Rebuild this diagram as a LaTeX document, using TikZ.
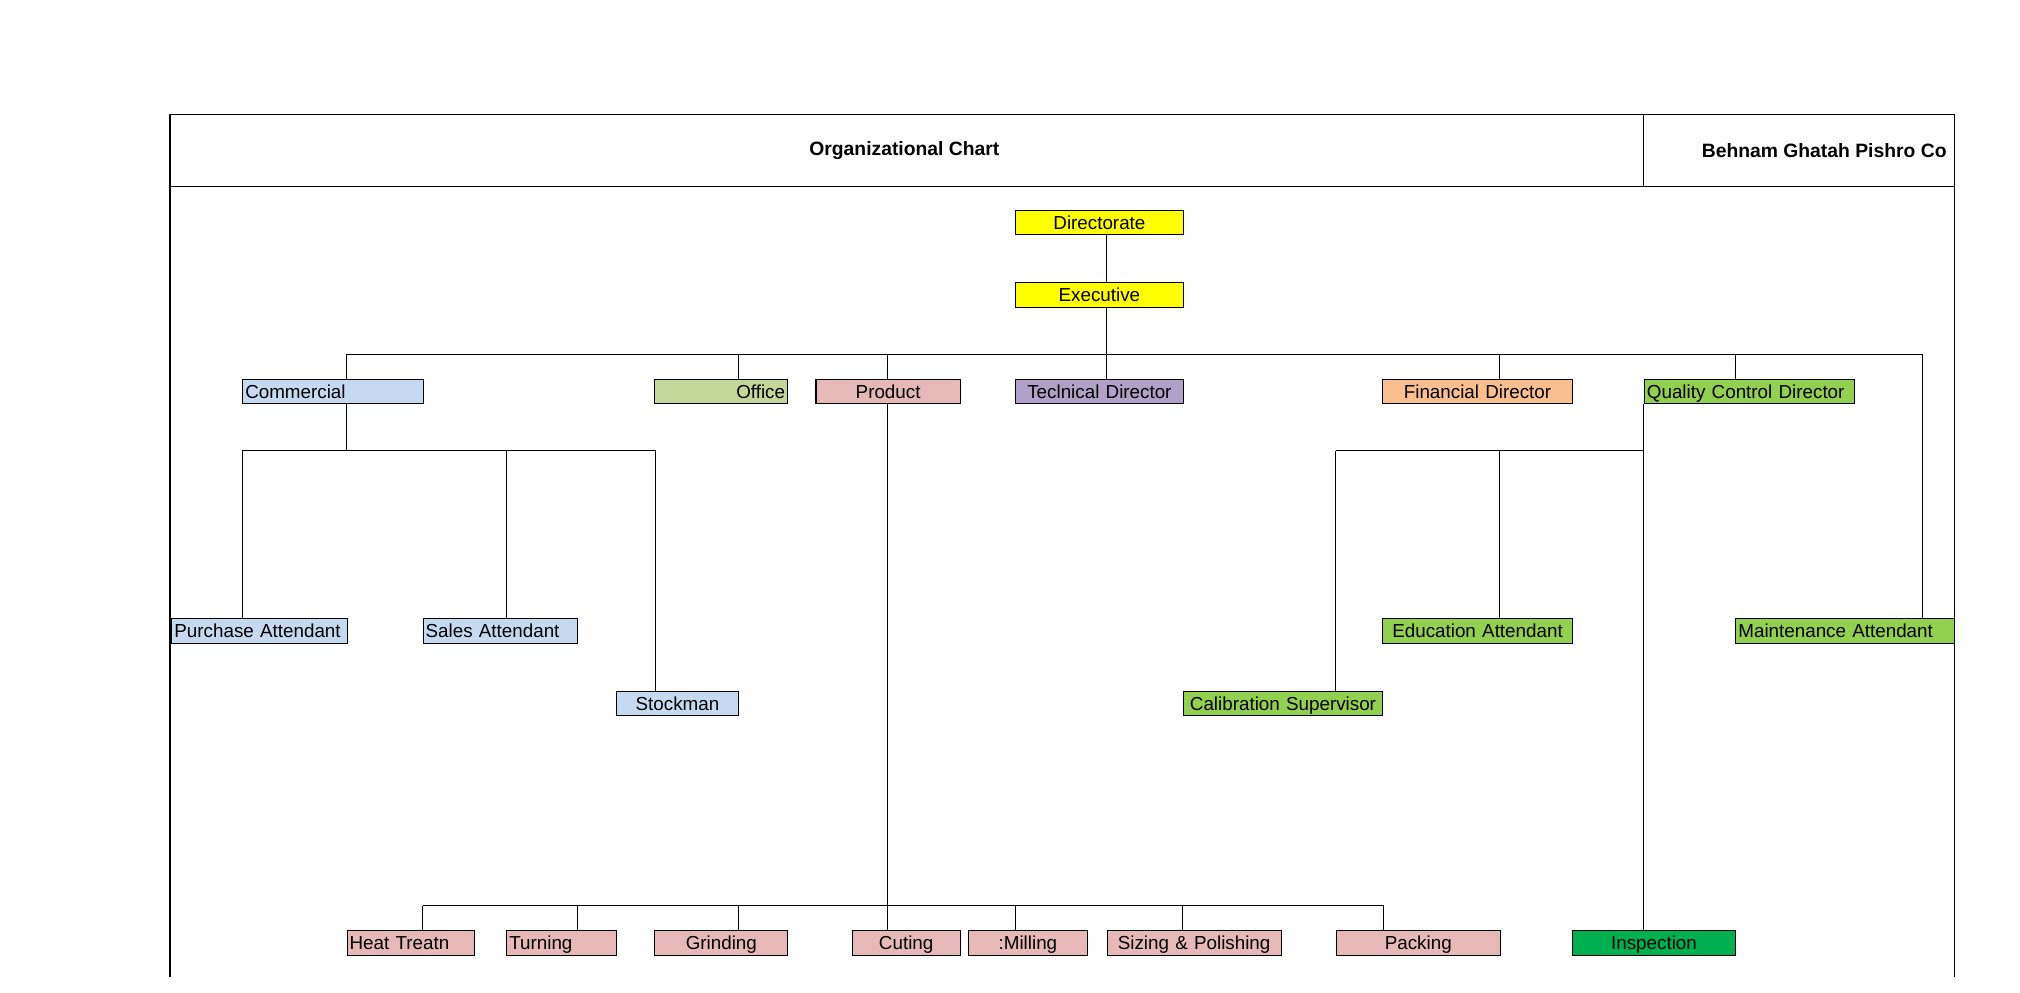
\documentclass[tikz,border=0pt]{standalone}
\usepackage{fontspec}
\setmainfont{Liberation Sans}
\definecolor{cYellow}{HTML}{FFFF00}
\definecolor{cBlue}{HTML}{C5D9F1}
\definecolor{cOffice}{HTML}{C4D79B}
\definecolor{cPink}{HTML}{E6B8B7}
\definecolor{cPurple}{HTML}{B1A0C7}
\definecolor{cOrange}{HTML}{FABF8F}
\definecolor{cGreen}{HTML}{92D050}
\definecolor{cDark}{HTML}{00B050}
\begin{document}
\begin{tikzpicture}[x=1pt,y=-1pt,
  box/.style={draw=black, line width=0.8pt, minimum height=19pt, inner xsep=2pt, inner ysep=0pt,
    anchor=north west, text height=11pt, text depth=0.5pt, font=\fontsize{14.6}{16}\selectfont},
  lbox/.style={box, align=left},
  cbox/.style={box, align=center},
  rbox/.style={box, align=right},
  conn/.style={draw=black, line width=0.8pt},
  frame/.style={draw=black, line width=0.9pt},
  head/.style={font=\fontsize{15}{17}\selectfont\bfseries}]
\useasboundingbox (0,0) rectangle (1568,770.8);
% frame
\draw[frame] (132,758) -- (132,89) -- (1517,89) -- (1517,758);
\draw[frame] (132,145) -- (1517,145);
\draw[frame] (1276,89) -- (1276,145);
\node[head] (title) at (702,117) {Organizational Chart};
\node[head] (company) at (1416,117) {Behnam Ghatah Pishro Co};
% boxes
\node[cbox, fill=cYellow, text width=126pt] (dir) at (788,163) {Directorate};
\node[cbox, fill=cYellow, text width=126pt] (exe) at (788,219) {Executive};
\node[lbox, fill=cBlue, text width=136pt] (com) at (188,294) {Commercial};
\node[rbox, fill=cOffice, text width=99pt] (off) at (508,294) {Office};
\node[cbox, fill=cPink, text width=108pt] (prod) at (633,294) {Product};
\node[cbox, fill=cPurple, text width=126pt] (tech) at (788,294) {Teclnical Director};
\node[cbox, fill=cOrange, text width=143pt] (fin) at (1073,294) {Financial Director};
\node[lbox, fill=cGreen, text width=159pt] (qc) at (1276,294) {Quality Control Director};
\node[lbox, fill=cBlue, text width=132pt] (pur) at (133,480) {Purchase Attendant};
\node[lbox, fill=cBlue, text width=116pt] (sal) at (328,480) {Sales Attendant};
\node[cbox, fill=cBlue, text width=91pt] (sto) at (478,536) {Stockman};
\node[cbox, fill=cGreen, text width=151pt] (cal) at (918,536) {Calibration Supervisor};
\node[cbox, fill=cGreen, text width=143pt] (edu) at (1073,480) {Education Attendant};
\node[lbox, fill=cGreen, text width=166pt] (mai) at (1347,480) {Maintenance Attendant};
\node[lbox, fill=cPink, text width=95pt] (heat) at (269,722) {Heat Treatn};
\node[lbox, fill=cPink, text width=81pt] (turn) at (393,722) {Turning};
\node[cbox, fill=cPink, text width=99pt] (grind) at (508,722) {Grinding};
\node[cbox, fill=cPink, text width=80pt] (cut) at (661,722) {Cuting};
\node[cbox, fill=cPink, text width=89pt] (mill) at (751,722) {:Milling};
\node[cbox, fill=cPink, text width=131pt] (siz) at (859,722) {Sizing \& Polishing};
\node[cbox, fill=cPink, text width=123pt] (pack) at (1037,722) {Packing};
\node[cbox, fill=cDark, text width=123pt] (insp) at (1220,722) {Inspection};
% top spine
\coordinate (ex) at (859,0);
\draw[conn] (dir.south -| ex) -- (exe.north -| ex);
\draw[conn] (exe.south -| ex) -- (tech.north -| ex);
% main bus
\coordinate (busL) at (269,275);
\coordinate (busR) at (1492,275);
\coordinate (bOff) at (573,275);
\coordinate (bProd) at (689,275);
\coordinate (bFin) at (1164,275);
\coordinate (bQc) at (1347,275);
\draw[conn] (busL) -- (busR);
\draw[conn] (busL) -- (busL |- com.north);
\draw[conn] (bOff) -- (bOff |- off.north);
\draw[conn] (bProd) -- (bProd |- prod.north);
\draw[conn] (bFin) -- (bFin |- fin.north);
\draw[conn] (bQc) -- (bQc |- qc.north);
\draw[conn] (busR) -- (busR |- mai.north);
% commercial
\coordinate (cx) at (269,350);
\coordinate (cL) at (188,350);
\coordinate (cS) at (393,350);
\coordinate (cR) at (509,350);
\draw[conn] (com.south -| cx) -- (cx);
\draw[conn] (cL) -- (cR);
\draw[conn] (cL) -- (cL |- pur.north);
\draw[conn] (cS) -- (cS |- sal.north);
\draw[conn] (cR) -- (cR |- sto.north);
% product
\coordinate (px) at (689,703);
\coordinate (pL) at (328,703);
\coordinate (pT) at (448,703);
\coordinate (pG) at (573,703);
\coordinate (pM) at (788,703);
\coordinate (pS) at (918,703);
\coordinate (pR) at (1074,703);
\draw[conn] (prod.south -| px) -- (px);
\draw[conn] (pL) -- (pR);
\draw[conn] (pL) -- (pL |- heat.north);
\draw[conn] (pT) -- (pT |- turn.north);
\draw[conn] (pG) -- (pG |- grind.north);
\draw[conn] (px) -- (px |- cut.north);
\draw[conn] (pM) -- (pM |- mill.north);
\draw[conn] (pS) -- (pS |- siz.north);
\draw[conn] (pR) -- (pR |- pack.north);
% quality control
\coordinate (qx) at (1276,350);
\coordinate (qL) at (1037,350);
\coordinate (qE) at (1164,350);
\draw[conn] (qc.south -| qx) -- (insp.north -| qx);
\draw[conn] (qL) -- (qx);
\draw[conn] (qL) -- (qL |- cal.north);
\draw[conn] (qE) -- (qE |- edu.north);
\end{tikzpicture}
\end{document}
